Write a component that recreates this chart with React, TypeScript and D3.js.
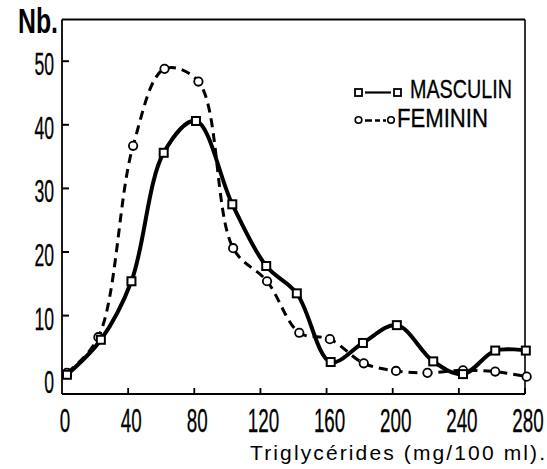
import React from "react";
import * as d3 from "d3";

// Data
const masculinX = [3, 23.5, 42, 61.5, 81, 103, 123.5, 142, 162.5, 182, 202.5, 224.5, 242.5, 262, 280.5];
const masculinY = [0.7, 6.2, 15.4, 35.6, 40.6, 27.5, 17.8, 13.5, 2.7, 5.7, 8.5, 2.8, 0.8, 4.5, 4.5];
const femininX = [3, 22, 43, 62, 82.5, 103.5, 124, 143.5, 162, 182.5, 202, 221, 242.5, 262, 281];
const femininY = [1.0, 6.6, 36.7, 48.8, 46.8, 20.6, 15.4, 7.3, 6.3, 2.5, 1.3, 1.0, 1.4, 1.2, 0.4];
const yTicks = [0, 10, 20, 30, 40, 50];
const xTicks = [0, 40, 80, 120, 160, 200, 240, 280];
const yLabel = "Nb.";
const xLabel = "Triglycérides (mg/100 ml).";
const seriesNames = ["MASCULIN", "FEMININ"];

const W = 547;
const H = 469;

export default function App() {
  const x = d3.scaleLinear().domain([0, 280]).range([62, 525]);
  const y = d3.scaleLinear().domain([0, 50]).range([379.2, 61.2]);
  const top = 19.5;
  const bottom = 394;

  const mPts: [number, number][] = masculinX.map((v, i) => [v, masculinY[i]]);
  const fPts: [number, number][] = femininX.map((v, i) => [v, femininY[i]]);

  const line = d3
    .line<[number, number]>()
    .x((d) => x(d[0]))
    .y((d) => y(d[1]))
    .curve(d3.curveCatmullRom.alpha(0.5));

  const font = "'Liberation Sans', Arial, sans-serif";
  const sq = 8;

  return (
    <svg
      width={W}
      height={H}
      style={{ position: "absolute", left: 0, top: 0, background: "#fff" }}
    >
      <rect x={0} y={0} width={W} height={H} fill="#fff" />
      {/* frame */}
      <line x1={x(0)} x2={x(280)} y1={top} y2={top} stroke="#000" strokeWidth={1.8} />
      <line x1={x(280)} x2={x(280)} y1={top} y2={bottom} stroke="#000" strokeWidth={1.6} />
      <line x1={x(0)} x2={x(0)} y1={top} y2={bottom} stroke="#000" strokeWidth={1.8} />
      <line x1={x(0)} x2={x(280)} y1={bottom} y2={bottom} stroke="#000" strokeWidth={2.2} />

      {/* y ticks */}
      {yTicks.map((t) => (
        <g key={"yt" + t}>
          {t > 0 && (
            <line x1={x(0)} x2={x(0) + 7} y1={y(t)} y2={y(t)} stroke="#000" strokeWidth={2} />
          )}
          <text
            transform={`translate(54, ${y(t) + 14}) scale(0.55, 1)`}
            textAnchor="end"
            fontFamily={font}
            fontSize={32}
            stroke="#000"
            strokeWidth={0.3}
            fill="#000"
          >
            {t}
          </text>
        </g>
      ))}

      {/* x ticks */}
      {xTicks.map((t) => (
        <g key={"xt" + t}>
          {t > 0 && (
            <line x1={x(t)} x2={x(t)} y1={bottom} y2={bottom - 6} stroke="#000" strokeWidth={1.8} />
          )}
          <text
            transform={`translate(${x(t) + 3}, 432) scale(0.57, 1)`}
            textAnchor="middle"
            fontFamily={font}
            fontSize={33}
            stroke="#000"
            strokeWidth={0.3}
            fill="#000"
          >
            {t}
          </text>
        </g>
      ))}

      {/* axis labels */}
      <text
        x={18}
        y={33}
        fontFamily={font}
        fontSize={35}
        fontWeight="bold"
        textLength={40}
        lengthAdjust="spacingAndGlyphs"
        fill="#000"
      >
        {yLabel}
      </text>
      <text
        x={250}
        y={460}
        fontFamily={font}
        fontSize={21}
        textLength={295}
        lengthAdjust="spacing"
        fill="#000"
      >
        {xLabel}
      </text>

      {/* curves */}
      <path
        d={line(fPts) || ""}
        fill="none"
        stroke="#000"
        strokeWidth={3}
        strokeDasharray="9 6"
      />
      <path d={line(mPts) || ""} fill="none" stroke="#000" strokeWidth={4} />

      {/* markers */}
      {fPts.map((d, i) => (
        <circle
          key={"c" + i}
          cx={x(d[0])}
          cy={y(d[1])}
          r={4.2}
          fill="#fff"
          stroke="#000"
          strokeWidth={1.8}
        />
      ))}
      {mPts.map((d, i) => (
        <rect
          key={"s" + i}
          x={x(d[0]) - sq / 2}
          y={y(d[1]) - sq / 2}
          width={sq}
          height={sq}
          fill="#fff"
          stroke="#000"
          strokeWidth={2}
        />
      ))}

      {/* legend */}
      <rect x={355} y={89} width={7} height={7} fill="#fff" stroke="#000" strokeWidth={1.8} />
      <line x1={365} x2={391} y1={92.5} y2={92.5} stroke="#000" strokeWidth={2.2} />
      <rect x={394} y={89} width={7} height={7} fill="#fff" stroke="#000" strokeWidth={1.8} />
      <text
        x={410}
        y={98}
        fontFamily={font}
        fontSize={25}
        textLength={102}
        lengthAdjust="spacingAndGlyphs"
        stroke="#000"
        strokeWidth={0.3}
        fill="#000"
      >
        {seriesNames[0]}
      </text>
      <circle cx={358.5} cy={120} r={3.3} fill="#fff" stroke="#000" strokeWidth={1.6} />
      <line
        x1={365}
        x2={386}
        y1={120.5}
        y2={120.5}
        stroke="#000"
        strokeWidth={2.4}
        strokeDasharray="7 3 5 3"
      />
      <circle cx={391} cy={120} r={3.3} fill="#fff" stroke="#000" strokeWidth={1.6} />
      <text
        x={397}
        y={127}
        fontFamily={font}
        fontSize={26}
        textLength={91}
        lengthAdjust="spacingAndGlyphs"
        stroke="#000"
        strokeWidth={0.3}
        fill="#000"
      >
        {seriesNames[1]}
      </text>
    </svg>
  );
}
